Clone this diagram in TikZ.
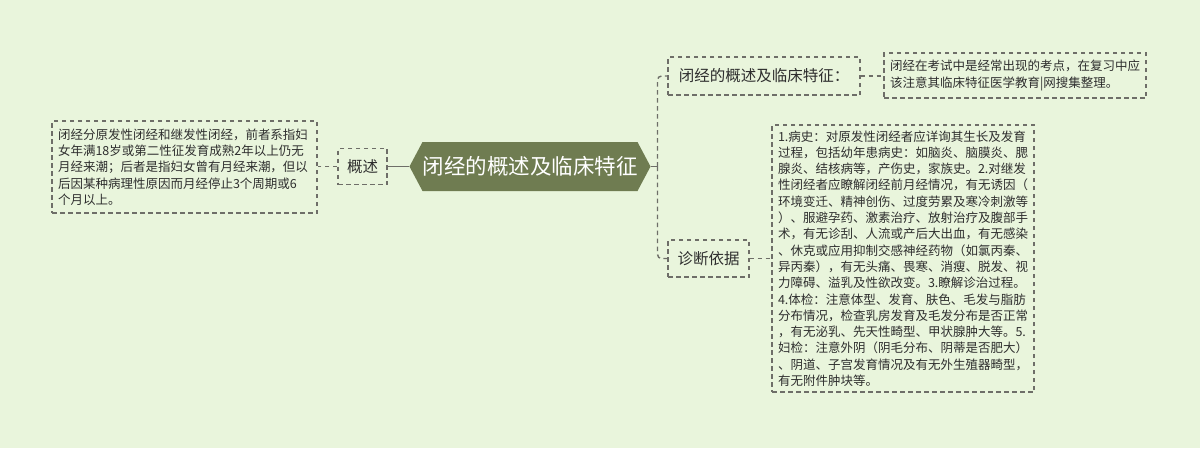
\documentclass[tikz,border=0pt]{standalone}
\usepackage{fontspec}
\newfontfamily\cjk{Noto Sans CJK SC}
\usetikzlibrary{shapes.symbols}
\definecolor{bg}{HTML}{E9F5DC}
\definecolor{cfill}{HTML}{6F7C51}
\definecolor{dline}{HTML}{6E6E68}
\definecolor{txt}{HTML}{2E2E2E}
\tikzset{
  dbox/.style={draw=dline, dashed, dash pattern=on 4.5pt off 3.5pt, line width=1.2pt, inner xsep=6pt, inner ysep=4pt, text=txt, font=\cjk\fontsize{12.5}{16.3}\selectfont, align=left, anchor=center},
  lbl/.style={draw=dline, dashed, dash pattern=on 4.5pt off 3.5pt, line width=1.2pt, inner sep=0pt, text=txt, font=\cjk\fontsize{15.5}{18}\selectfont, align=center},
  centre/.style={signal, signal to=east and west, signal pointer angle=124, fill=cfill, text=white, font=\cjk\fontsize{21.5}{24}\selectfont, inner xsep=0pt, inner ysep=0pt, minimum height=49pt},
  dcon/.style={draw=dline, dashed, dash pattern=on 4.5pt off 3.5pt, line width=1.4pt},
  scon/.style={draw=dline, line width=1.5pt}
}
\begin{document}
\begin{tikzpicture}[x=1pt,y=-1pt]
\fill[bg] (0,0) rectangle (1200,448);
\useasboundingbox (0,0) rectangle (1200,448);

\node[centre, minimum width=214pt] (c) at (530,166.5) {闭经的概述及临床特征};

\node[lbl, minimum width=49pt, minimum height=36pt] (gs) at (362.5,166.5) {概述};
\node[dbox, minimum width=265pt, minimum height=92pt, text width=253pt] (lt) at (184.5,167)
{闭经分原发性闭经和继发性闭经，前者系指妇\\女年满18岁或第二性征发育成熟2年以上仍无\\月经来潮；后者是指妇女曾有月经来潮，但以\\后因某种病理性原因而月经停止3个周期或6\\个月以上。};

\node[lbl, minimum width=192pt, minimum height=38pt] (b1) at (764,76) {闭经的概述及临床特征：};
\node[dbox, minimum width=262pt, minimum height=45pt, text width=250pt] (t1) at (1015,75.5)
{闭经在考试中是经常出现的考点，在复习中应\\该注意其临床特征医学教育|网搜集整理。};

\node[lbl, minimum width=81pt, minimum height=37pt] (b2) at (708.5,258.5) {诊断依据};
\node[dbox, minimum width=262pt, minimum height=267pt, text width=250pt] (t2) at (903,258.5)
{1.病史：对原发性闭经者应详询其生长及发育\\过程，包括幼年患病史：如脑炎、脑膜炎、腮\\腺炎、结核病等，产伤史，家族史。2.对继发\\性闭经者应瞭解闭经前月经情况，有无诱因（\\环境变迁、精神创伤、过度劳累及寒冷刺激等\\）、服避孕药、激素治疗、放射治疗及腹部手\\术，有无诊刮、人流或产后大出血，有无感染\\、休克或应用抑制交感神经药物（如氯丙秦、\\异丙秦），有无头痛、畏寒、消瘦、脱发、视\\力障碍、溢乳及性欲改变。3.瞭解诊治过程。\\4.体检：注意体型、发育、肤色、毛发与脂肪\\分布情况，检查乳房发育及毛发分布是否正常\\，有无泌乳、先天性畸型、甲状腺肿大等。5.\\妇检：注意外阴（阴毛分布、阴蒂是否肥大）\\、阴道、子宫发育情况及有无外生殖器畸型，\\有无附件肿块等。};

\coordinate (j) at (657.5,166.5);
\draw[scon] (c.west) -- (gs.east);
\draw[dcon] (gs.west) -- (lt.east |- gs.west);
\draw[scon] (c.east) -- (j);
\draw[dcon, rounded corners=4pt] (j) |- (b1.west);
\draw[dcon, rounded corners=4pt] (j) |- (b2.west);
\draw[dcon] (b1.east) -- (t1.west |- b1.east);
\draw[dcon] (b2.east) -- (t2.west |- b2.east);
\end{tikzpicture}
\end{document}
